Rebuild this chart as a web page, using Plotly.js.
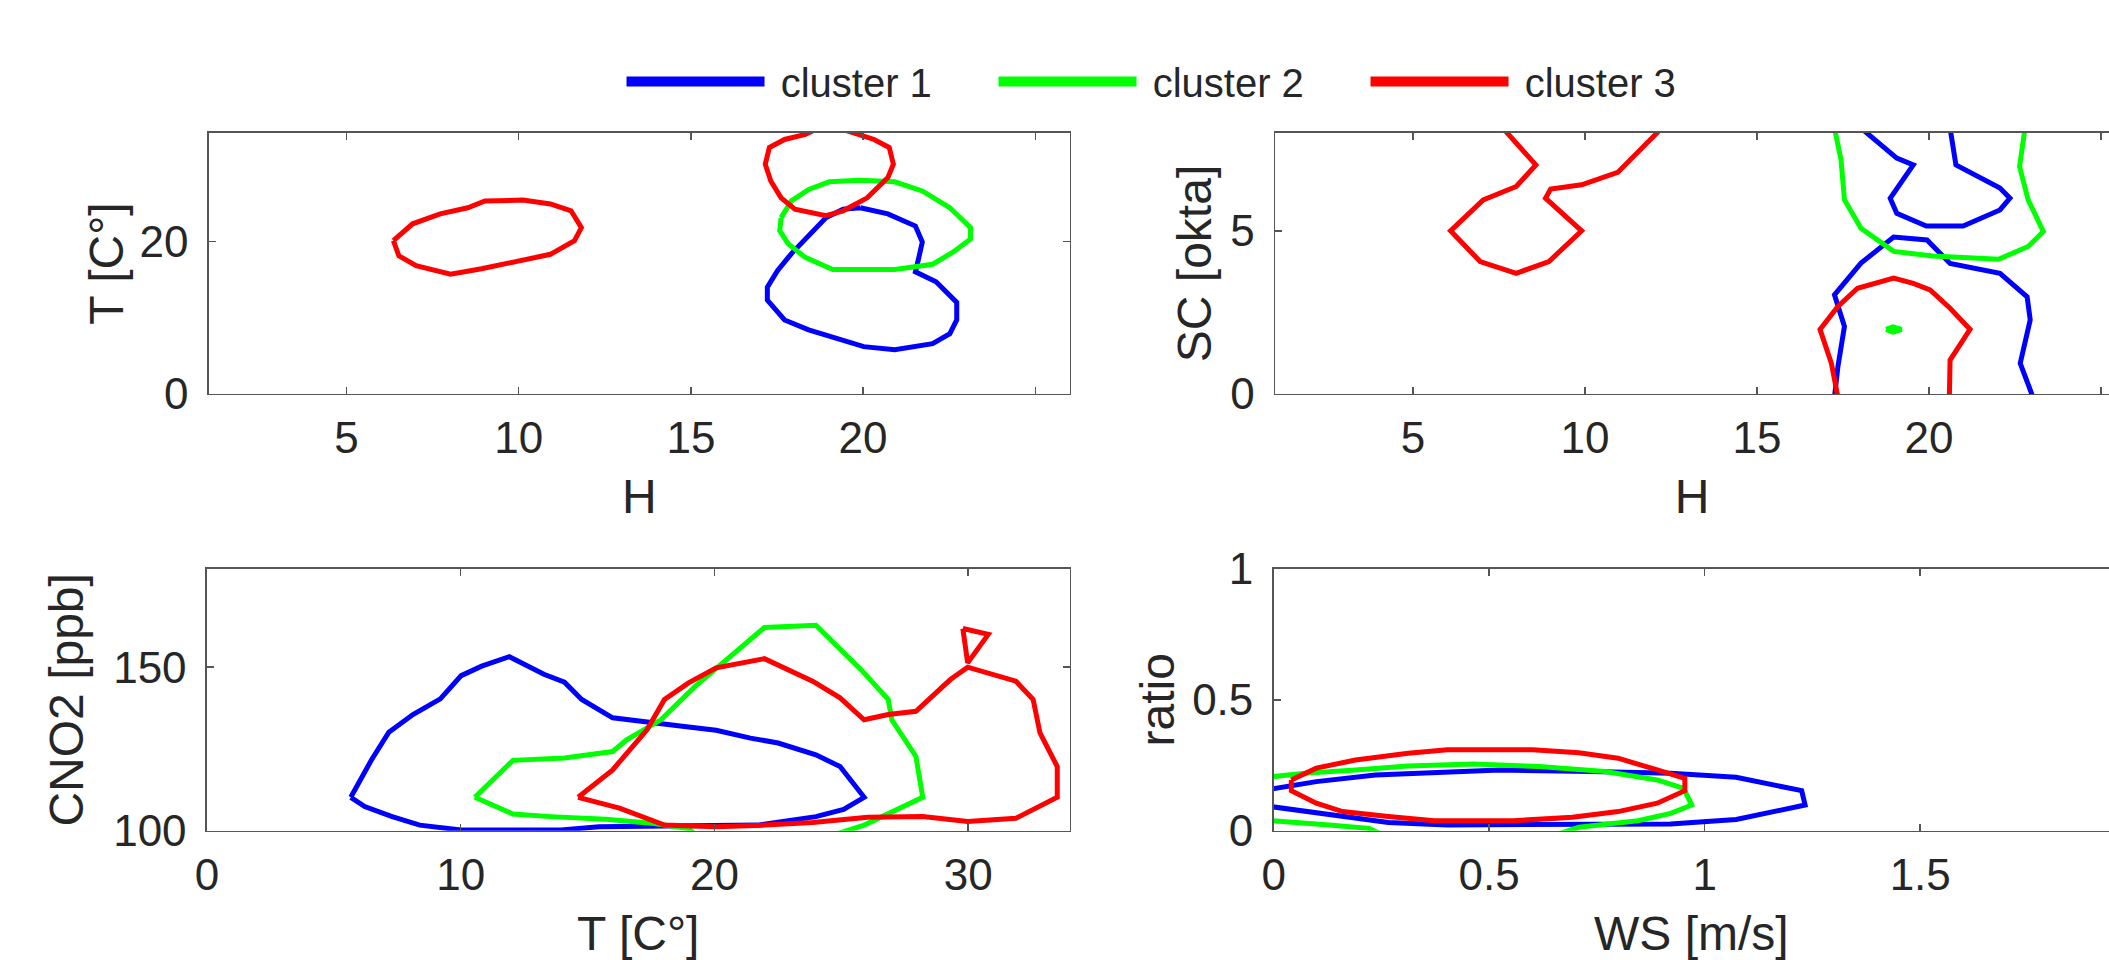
<!DOCTYPE html>
<html>
<head>
<meta charset="utf-8">
<script src="https://cdn.plot.ly/plotly-3.0.1.min.js"></script>
<style>html,body{margin:0;padding:0;background:#fff;overflow:hidden;}#chart{width:2109px;height:960px;}</style>
</head>
<body>
<div id="chart"></div>
<script>
// ---------- Data ----------
const clusterNames = ['cluster 1', 'cluster 2', 'cluster 3'];
const clusterColors = ['#0000FF', '#00FF00', '#FF0000'];

// Panel 1: H vs T [C°]
const p1_c1_H = [19.92,20.72,21.52,21.72,21.62,21.52,22.12,22.72,22.72,22.52,22.02,20.92,20.02,19.12,18.42,17.72,17.22,17.22,17.52,17.92,18.42,18.92,19.42,19.92];
const p1_c1_T = [24.4,23.6,22.0,19.9,17.9,16.0,14.7,12.0,9.7,7.9,6.6,5.8,6.2,7.5,8.4,9.7,12.3,14.0,16.2,18.4,20.7,23.1,24.2,24.4];
const p1_c2_H = [17.62,17.92,18.42,19.02,19.92,20.92,21.72,22.52,23.12,23.12,22.62,22.02,20.92,19.12,18.32,17.82,17.58,17.62];
const p1_c2_T = [23.1,25.3,26.8,27.8,28.0,27.8,26.6,24.4,21.8,20.3,18.6,17.0,16.3,16.3,17.9,19.7,21.4,23.1];
const p1_c3_H = [6.36,6.52,7.02,8.02,8.92,10.12,10.92,11.62,11.82,11.52,10.92,10.12,9.02,8.52,7.72,6.92,6.36,null,
                 18.62,18.32,17.72,17.28,17.16,17.32,17.62,18.02,18.92,19.42,20.12,20.72,20.88,20.76,20.32,19.82,19.42];
const p1_c3_T = [20.1,18.1,16.8,15.7,16.4,17.5,18.3,20.1,21.8,24.0,24.9,25.4,25.3,24.4,23.6,22.3,20.1,null,
                 34.65,34.0,33.35,32.3,30.1,27.9,25.7,24.2,23.35,24.0,25.7,28.35,30.1,32.3,33.35,34.0,34.65];

// Panel 2: H vs SC [okta]
const p2_c1_H = [18.02,19.06,19.54,18.87,19.06,19.92,20.99,22.06,22.35,22.06,20.78,20.61,null,
                 17.25,17.35,17.54,17.25,18.02,18.97,19.94,20.61,22.06,22.85,22.94,22.65,23.02];
const p2_c1_SC = [8.15,7.23,7.02,6.0,5.54,5.15,5.15,5.64,6.0,6.31,7.02,8.15,null,
                  -0.1,0.84,2.07,3.04,4.01,4.81,4.72,4.0,3.70,2.98,2.27,0.94,-0.1];
const p2_c2_H = [17.25,17.44,17.54,18.02,18.97,20.11,22.02,22.88,23.32,22.88,22.63,22.79,null,
                 18.75,18.95,19.2,18.95,18.75];
const p2_c2_SC = [8.15,7.18,5.95,5.08,4.37,4.23,4.13,4.52,4.98,5.95,6.97,8.15,null,
                  1.98,2.06,1.98,1.9,1.98];
const p2_c3_H = [7.61,8.57,8.0,7.04,6.09,6.95,8.0,8.95,9.9,8.85,9.0,9.9,10.95,12.23,null,
                 17.35,17.16,16.83,17.35,17.92,18.97,19.54,20.03,20.61,21.19,20.61,20.59];
const p2_c3_SC = [8.15,7.02,6.36,5.95,5.0,4.06,3.70,4.06,5.0,6.0,6.28,6.41,6.79,8.15,null,
                  -0.1,0.94,1.98,2.68,3.24,3.55,3.39,3.19,2.63,1.98,1.04,-0.1];

// Panel 3: T [C°] vs CNO2 [ppb]
const p3_c1_T = [5.67,6.22,7.30,8.39,10.02,13.96,15.45,18.98,21.7,24.0,25.09,25.9,24.95,24.0,22.51,21.42,20.07,18.98,17.62,15.99,14.77,14.09,13.28,11.92,10.83,10.02,9.2,8.12,7.17,6.49,5.67];
const p3_c1_C = [110.2,107.4,104.3,101.7,100.2,100.2,101.2,101.4,101.7,104.3,106.5,110.2,119.6,123.2,126.8,128.3,130.7,131.7,132.9,134.5,140.1,145.4,147.8,153.2,150.3,147.4,140.3,135.5,130.1,121.7,110.2];
const p3_c2_T = [10.56,12.06,13.55,15.72,17.62,18.98,19.52,24.0,25.9,28.21,27.94,26.99,26.85,25.77,24.0,21.97,19.25,17.89,16.54,15.99,14.09,12.06,10.56];
const p3_c2_C = [110.2,105.1,104.3,103.5,102.2,100.7,97.0,97.0,101.7,110.2,122.7,133.9,140.1,149.3,162.8,162.1,144.2,133.9,127.8,124.2,122.2,121.5,110.2];
const p3_c3_T = [14.63,16.26,18.03,20.07,21.97,23.87,26.04,28.21,29.98,31.88,33.51,33.51,32.83,32.56,31.88,29.98,29.3,27.94,26.85,25.9,24.95,23.87,21.97,20.07,18.98,18.03,17.35,15.99,14.63,null,
                 29.79,30.79,29.98,29.79];
const p3_c3_C = [110.2,106.9,101.7,101.2,101.7,102.5,104.1,104.3,102.8,103.8,110.2,119.6,129.9,140.1,145.7,150.0,146.2,136.5,135.5,133.9,140.6,145.7,152.6,149.8,145.2,140.1,130.9,118.6,110.2,null,
                 161.8,160.0,151.3,161.8];

// Panel 4: WS [m/s] vs ratio
const p4_c1_WS = [-0.01,0.099,0.236,0.403,0.525,0.738,0.921,1.073,1.164,1.225,1.233,1.164,1.073,0.921,0.616,0.403,0.266,0.16,0.068,-0.01];
const p4_c1_R  = [0.158,0.1875,0.213,0.226,0.232,0.226,0.219,0.204,0.175,0.153,0.098,0.073,0.043,0.026,0.022,0.022,0.031,0.054,0.077,0.093];
const p4_c2_WS = [-0.01,0.068,0.19,0.312,0.464,0.616,0.769,0.89,0.951,0.97,0.921,0.845,0.708,0.647,0.259,0.221,0.129,0.068,-0.01];
const p4_c2_R  = [0.205,0.219,0.232,0.247,0.255,0.245,0.226,0.194,0.162,0.098,0.066,0.038,0.013,-0.02,-0.02,0.009,0.022,0.031,0.039];
const p4_c3_WS = [0.041,0.099,0.19,0.312,0.403,0.601,0.708,0.799,0.89,0.954,0.954,0.89,0.799,0.693,0.556,0.373,0.266,0.16,0.099,0.041,0.041];
const p4_c3_R  = [0.194,0.239,0.270,0.296,0.309,0.309,0.298,0.277,0.232,0.2,0.153,0.105,0.073,0.051,0.038,0.038,0.054,0.073,0.105,0.153,0.194];

// Axis ticks / titles
const xTicks1 = [5,10,15,20,25];
const xTickText1 = ['5','10','15','20',''];
const yTicks1 = [0,20];
const yTicks2 = [0,5];
const xTicks3 = [0,10,20,30];
const yTicks3 = [100,150];
const xTicks4 = [0,0.5,1,1.5];
const xTickText4 = ['0','0.5','1','1.5'];
const yTicks4 = [0,0.5,1];
const yTickText4 = ['0','0.5','1'];

// ---------- Traces ----------
const traces = [];
// legend entries (no data of their own; thick legend keys); nbsp pads the gap after the key
for (let k = 0; k < 3; k++) {
  traces.push({type:'scatter', mode:'lines', x:[null], y:[null], xaxis:'x', yaxis:'y',
    name:'\u00A0' + clusterNames[k], legendgroup:clusterNames[k], showlegend:true,
    line:{color:clusterColors[k], width:14}, hoverinfo:'skip'});
}
const panels = [
  {xa:'x',  ya:'y',  xs:[p1_c1_H,p1_c2_H,p1_c3_H],   ys:[p1_c1_T,p1_c2_T,p1_c3_T]},
  {xa:'x2', ya:'y2', xs:[p2_c1_H,p2_c2_H,p2_c3_H],   ys:[p2_c1_SC,p2_c2_SC,p2_c3_SC]},
  {xa:'x3', ya:'y3', xs:[p3_c1_T,p3_c2_T,p3_c3_T],   ys:[p3_c1_C,p3_c2_C,p3_c3_C]},
  {xa:'x4', ya:'y4', xs:[p4_c1_WS,p4_c2_WS,p4_c3_WS], ys:[p4_c1_R,p4_c2_R,p4_c3_R]}
];
panels.forEach(p => {
  for (let k = 0; k < 3; k++) {
    traces.push({
      type:'scatter', mode:'lines',
      x:p.xs[k], y:p.ys[k], xaxis:p.xa, yaxis:p.ya,
      name:clusterNames[k], legendgroup:clusterNames[k], showlegend:false,
      connectgaps:false,
      line:{color:clusterColors[k], width:5},
      hoverinfo:'skip'
    });
  }
});

// ---------- Layout ----------
const FONT = 'Liberation Sans, Arial, Helvetica, sans-serif';
const TXT = '#262626';
function xAx(domain, range, tickvals, ticktext, title, anchor, standoff) {
  return {domain, range, tickvals, ticktext, anchor, showgrid:false, zeroline:false,
    automargin:false,
    showline:true, linecolor:'#555', linewidth:1.5, mirror:'ticks',
    ticks:'inside', ticklen:7, tickwidth:1.5, tickcolor:'#555',
    ticklabelstandoff:5,
    tickfont:{family:FONT, size:44, color:TXT},
    title:{text:title, font:{family:FONT, size:48, color:TXT}, standoff:standoff}};
}
function yAx(domain, range, tickvals, ticktext, title, anchor, mirror, standoff) {
  return {domain, range, tickvals, ticktext, anchor, showgrid:false, zeroline:false,
    automargin:false,
    showline:true, linecolor:'#555', linewidth:1.5, mirror:mirror,
    ticks:'inside', ticklen:7, tickwidth:1.5, tickcolor:'#555',
    ticklabelstandoff:10,
    tickfont:{family:FONT, size:44, color:TXT},
    title:{text:title, font:{family:FONT, size:48, color:TXT}, standoff:standoff}};
}

const layout = {
  width:2109, height:960,
  margin:{l:0, r:0, t:0, b:0, autoexpand:false},
  paper_bgcolor:'#ffffff', plot_bgcolor:'#ffffff',
  showlegend:true,
  legend:{orientation:'h', x:0.2947, xanchor:'left', y:0.915, yanchor:'middle',
    itemwidth:138, entrywidth:219, entrywidthmode:'pixels',
    font:{family:FONT, size:40, color:TXT}, bgcolor:'rgba(255,255,255,0)', borderwidth:0,
    itemclick:false, itemdoubleclick:false},
  xaxis:  xAx([0.0990,0.5072], [1,26],      xTicks1, xTickText1, 'H', 'y', 18),
  yaxis:  yAx([0.5896,0.8615], [0,34.2],    yTicks1, ['0','20'], 'T [C°]', 'x', 'ticks', 0),
  xaxis2: xAx([0.6046,1.0],    [0.99,25.23], xTicks1, xTickText1, 'H', 'y2', 18),
  yaxis2: yAx([0.5896,0.8615], [0,8.0],     yTicks2, ['0','5'], 'SC [okta]', 'x2', false, 3),
  xaxis3: xAx([0.0981,0.5072], [0,34],      xTicks3, ['0','10','20','30'], 'T [C°]', 'y3', 18),
  yaxis3: yAx([0.1347,0.4073], [100,180],   yTicks3, ['100','150'], 'CNO2 [ppb]', 'x3', 'ticks', 14),
  xaxis4: xAx([0.6039,1.0],    [0,1.938],   xTicks4, xTickText4, 'WS [m/s]', 'y4', 18),
  yaxis4: yAx([0.1347,0.4073], [0,1],       yTicks4, yTickText4, 'ratio', 'x4', false, 2)
};

Plotly.newPlot('chart', traces, layout, {staticPlot:true, displayModeBar:false});
</script>
</body>
</html>
